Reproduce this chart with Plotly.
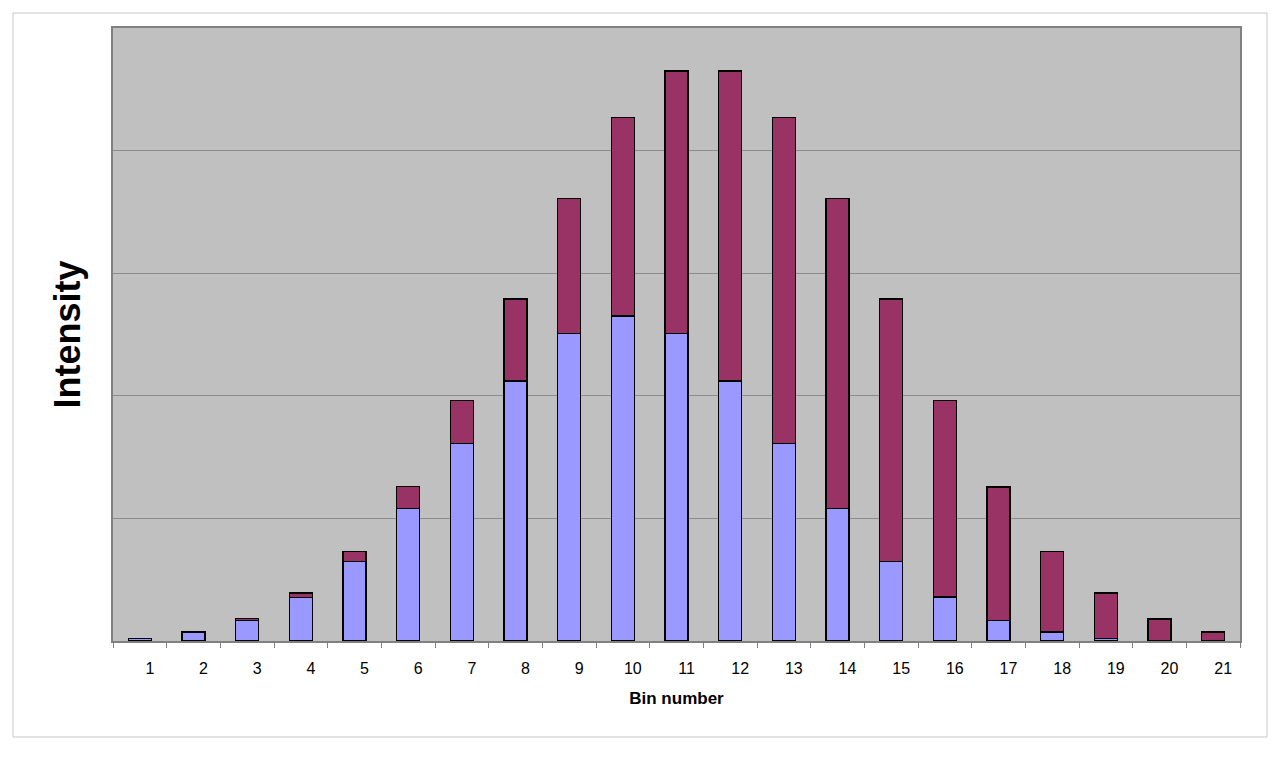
import plotly.graph_objs as go

# bins and stacked intensities (grid unit = 1)
bins = [str(i) for i in range(1, 22)]
blue_vals = [0.02, 0.075, 0.167, 0.355, 0.65, 1.08, 1.61, 2.12, 2.51, 2.65, 2.51,
             2.12, 1.61, 1.08, 0.65, 0.36, 0.167, 0.075, 0.02, 0.005, 0.0]
red_vals = [0.0, 0.0, 0.016, 0.035, 0.08, 0.18, 0.35, 0.67, 1.10, 1.62, 2.14,
            2.53, 2.66, 2.53, 2.14, 1.60, 1.09, 0.655, 0.37, 0.175, 0.075]
y_grid = [0, 1, 2, 3, 4, 5]

# page has an 8px body margin, so figure is a bit smaller than the window
OFF = 8
W, H = 1280 - 2 * OFF, 757 - 2 * OFF
L, T = 113 - OFF, 28 - OFF
R, B = (W + OFF) - 1240, (H + OFF) - 641
pw, ph = W - L - R, H - T - B

fig = go.Figure()
fig.add_trace(go.Bar(x=bins, y=blue_vals, name='blue', width=0.43,
                     marker=dict(color='#9999FF', line=dict(color='#000000', width=1.5))))
fig.add_trace(go.Bar(x=bins, y=red_vals, name='red', width=0.43,
                     marker=dict(color='#993366', line=dict(color='#000000', width=1.5))))

fig.update_layout(
    barmode='stack',
    width=W, height=H,
    margin=dict(l=L, r=R, t=T, b=B),
    paper_bgcolor='white',
    plot_bgcolor='#C0C0C0',
    showlegend=False,
    font=dict(family='Liberation Sans, Arial', color='black'),
    xaxis=dict(type='category', showgrid=False, ticks='outside', tickson='boundaries',
               ticklen=5, tickcolor='#808080', showline=True, linecolor='#808080',
               linewidth=1.5, mirror=True, tickfont=dict(size=16), ticklabelshift=10,
               ticklabelstandoff=12,
               title=dict(text='Bin number', font=dict(size=17, weight='bold'), standoff=16)),
    yaxis=dict(range=[0, 5], tickvals=y_grid, showticklabels=False, showgrid=True,
               gridcolor='#8C8C8C', gridwidth=1, showline=True, linecolor='#808080',
               linewidth=1.5, mirror=True, zeroline=False, ticks='',
               title=dict(text='Intensity', font=dict(size=36, weight='bold'), standoff=20)),
)

# outer chart border
fig.add_shape(type='rect', xref='paper', yref='paper',
              x0=(13 - OFF - L) / pw, x1=(1267 - OFF - L) / pw,
              y0=(H - B - (737 - OFF)) / ph, y1=(H - B - (13 - OFF)) / ph,
              line=dict(color='#C8C8C8', width=1), layer='below')

fig.write_html("out.html")
